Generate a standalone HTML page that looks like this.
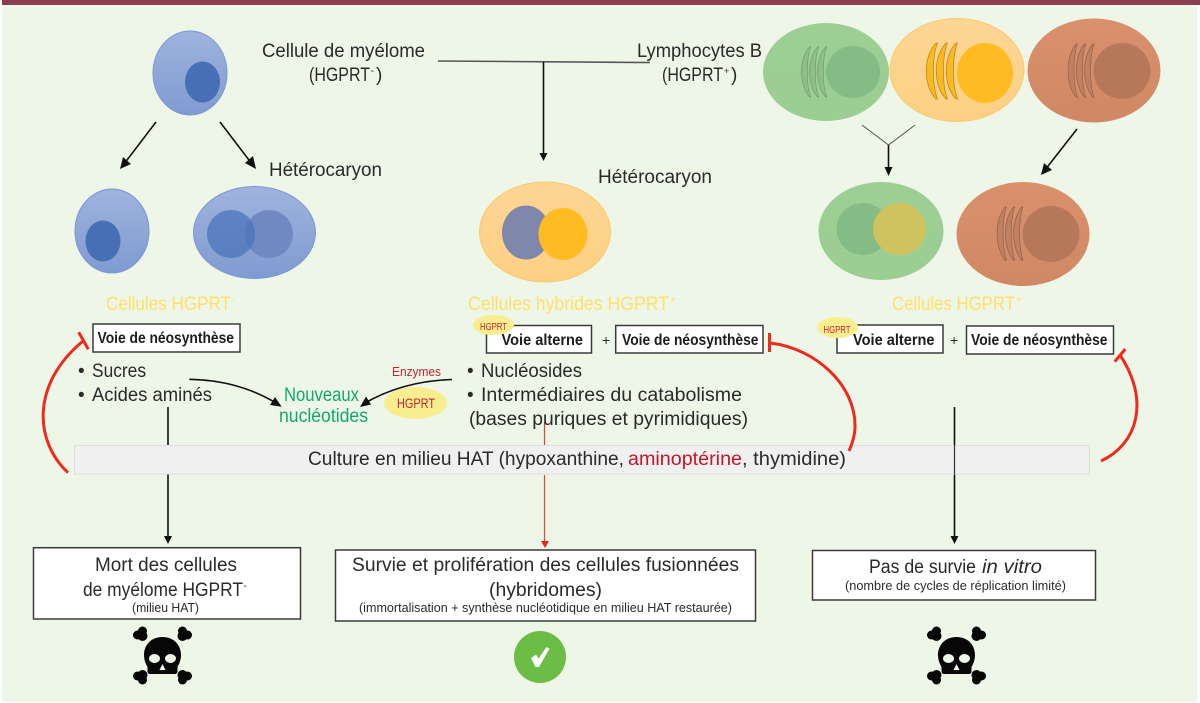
<!DOCTYPE html>
<html lang="fr"><head><meta charset="utf-8"><title>Hybridomes</title>
<style>
html,body{margin:0;padding:0;background:#fff}
svg{display:block}
text{font-family:"Liberation Sans",sans-serif;fill:#2a2a2a}
.m{font-size:19px}
.s{font-size:12.5px}
.b{font-size:15.5px;font-weight:700;fill:#1c1c1c}
.y{font-size:19px;fill:#ffe169}
.r{fill:#c9252f}
.g{fill:#12a76b}
.box{fill:#fff;stroke:#3a3a3a;stroke-width:1.5}
.a{stroke:#111;stroke-width:1.6;fill:none}
.red{stroke:#ee2a1c;stroke-width:3;fill:none}
</style></head><body>
<svg width="1200" height="703" viewBox="0 0 1200 703" xmlns="http://www.w3.org/2000/svg">
<defs>
<linearGradient id="bl" x1="0" y1="0" x2="0" y2="1"><stop offset="0" stop-color="#9fb3dd"/><stop offset="1" stop-color="#7f9bd1"/></linearGradient>
<linearGradient id="gr" x1="0" y1="0" x2="0" y2="1"><stop offset="0" stop-color="#9dcf95"/><stop offset="1" stop-color="#9bce92"/></linearGradient>
<linearGradient id="ye" x1="0" y1="0" x2="0" y2="1"><stop offset="0" stop-color="#fdd695"/><stop offset="1" stop-color="#fdd083"/></linearGradient>
<linearGradient id="br" x1="0" y1="0" x2="0" y2="1"><stop offset="0" stop-color="#db906c"/><stop offset="1" stop-color="#cf8865"/></linearGradient>
<g id="cr">
<path d="M8 0C-5 14 -5 42 8 56L9.500 56C4 42 4 14 9.500 0Z"/>
<path d="M18 0C5 14 5 42 18 56L19.500 56C14 42 14 14 19.500 0Z"/>
<path d="M28 0C15 14 15 42 28 56L29.500 56C24 42 24 14 29.500 0Z"/>
</g>
<g id="skull">
<path d="M0 -19C-13 -19 -19 -9 -18.500 0C-18 6 -16 9 -15 11L-15 15C-15 17 -14 18 -12 18L12 18C14 18 15 17 15 15L15 11C16 9 18 6 18.500 0C19 -9 13 -19 0 -19Z" fill="#070707"/>
<ellipse cx="-8" cy="2.500" rx="5.500" ry="4.500" fill="#eef6e8"/>
<ellipse cx="8" cy="2.500" rx="5.500" ry="4.500" fill="#eef6e8"/>
<path d="M0 8L3 14L-3 14Z" fill="#eef6e8"/>
<g fill="#070707">
<circle cx="-25" cy="-21" r="4.500"/><circle cx="-20" cy="-25" r="4.500"/><circle cx="-20" cy="-20" r="5"/>
<circle cx="25" cy="-21" r="4.500"/><circle cx="20" cy="-25" r="4.500"/><circle cx="20" cy="-20" r="5"/>
<circle cx="-25" cy="20" r="4.500"/><circle cx="-20" cy="24" r="4.500"/><circle cx="-20" cy="19" r="5"/>
<circle cx="25" cy="20" r="4.500"/><circle cx="20" cy="24" r="4.500"/><circle cx="20" cy="19" r="5"/>
</g>
</g>
</defs>

<rect x="2" y="5" width="1195" height="697" fill="#eef6e8"/>
<rect x="2" y="0" width="1198" height="5" fill="#8b3e50"/>

<!-- blue cells -->
<ellipse cx="190" cy="73" rx="37" ry="42" fill="url(#bl)" stroke="#7b98d2"/>
<ellipse cx="202.500" cy="82" rx="17.500" ry="20.500" fill="#466fb6"/>
<ellipse cx="112" cy="231" rx="37" ry="42" fill="url(#bl)" stroke="#7b98d2"/>
<ellipse cx="103" cy="241" rx="17.500" ry="20.500" fill="#466fb6"/>
<ellipse cx="254.500" cy="232.500" rx="61" ry="46" fill="url(#bl)" stroke="#7b98d2"/>
<circle cx="269" cy="234" r="24" fill="#7089c3"/>
<circle cx="231" cy="234" r="24" fill="#4a72ba" fill-opacity=".72"/>

<!-- hybrid -->
<ellipse cx="545" cy="232" rx="65.500" ry="50" fill="url(#ye)" stroke="#fdc868"/>
<ellipse cx="526" cy="232.500" rx="24" ry="27" fill="#8087ad"/>
<ellipse cx="563" cy="234" rx="24.500" ry="26" fill="#ffbc22"/>

<!-- top right cells -->
<ellipse cx="826" cy="72" rx="63" ry="49" fill="url(#gr)"/>
<ellipse cx="853" cy="72" rx="27" ry="26" fill="#85bb85"/>
<use href="#cr" transform="translate(803 47) scale(.8 .89)" fill="#8fbf88" stroke="#6f9a6e" stroke-width=".8"/>
<ellipse cx="957" cy="70" rx="67" ry="51.500" fill="url(#ye)" stroke="#fdc868"/>
<ellipse cx="985" cy="73" rx="28" ry="30" fill="#ffbc22"/>
<use href="#cr" transform="translate(928 43)" fill="#fbb81f" stroke="#b98c20" stroke-width=".8"/>
<ellipse cx="1094" cy="70.500" rx="66.500" ry="52" fill="url(#br)"/>
<ellipse cx="1122" cy="71" rx="28.500" ry="28" fill="#b7785a"/>
<use href="#cr" transform="translate(1069.500 44) scale(.83 .95)" fill="#c08061" stroke="#8f6048" stroke-width=".8"/>

<!-- bottom right cells -->
<ellipse cx="881" cy="231" rx="62.500" ry="49" fill="url(#gr)"/>
<ellipse cx="863" cy="229" rx="26.500" ry="26" fill="#85bb85"/>
<ellipse cx="899.500" cy="229" rx="26.500" ry="26" fill="#cfc35e"/>
<ellipse cx="1023" cy="234" rx="66.500" ry="52" fill="url(#br)"/>
<ellipse cx="1051" cy="234" rx="28.500" ry="28" fill="#b7785a"/>
<use href="#cr" transform="translate(998.500 207) scale(.83 .95)" fill="#c08061" stroke="#8f6048" stroke-width=".8"/>

<!-- black connectors -->
<g class="a">
<path d="M156 122L124 164"/><path d="M220 122L252 164"/>
<path d="M438 61L650 62.500" stroke="#555"/>
<path d="M543.500 62V155"/>
<path d="M862 125L888.500 145L915 125" stroke="#555" stroke-width="1"/>
<path d="M888.500 145V170"/>
<path d="M1077 129L1045 170"/>
<path d="M168 407V538"/>
<path d="M954.500 407V538"/>
<path d="M189.300 379.300Q238 380 277 403.500"/>
<path d="M452 379.500Q403 381 364 403.500"/>
</g>
<g fill="#111">
<path d="M120 169L123 157L131 164Z"/>
<path d="M256 169L245 163L253 156Z"/>
<path d="M543.500 161L539.500 153H547.500Z"/>
<path d="M888.500 176L884.500 167H892.500Z"/>
<path d="M1041 175L1044 163L1052 170Z"/>
<path d="M281.700 406.700L270 405L275 397Z"/>
<path d="M360 407L366 396.500L371 404.500Z"/>
<path d="M168 544L164 536H172Z"/>
<path d="M954.500 544L950.500 536H958.500Z"/>
</g>

<!-- bar -->
<rect x="74.500" y="445.500" width="1015" height="28.500" fill="#eff0ef" stroke="#dcdfdb"/>
<path d="M954.500 445V474" stroke="#333" stroke-width="1.200"/>

<!-- red vertical -->
<path d="M544.500 422V445M544.500 475V541" stroke="#e8433a" stroke-width="1.200" fill="none"/>
<path d="M545 548L541 541H549Z" fill="#e8231c"/>

<!-- red inhibitors -->
<path class="red" d="M68 472.700C35 442 30 385 83 341"/>
<path class="red" d="M78.700 332.300L88.300 349.300"/>
<path class="red" d="M770 343C815 348 856 385 855 427C855 436 852 444 849 451"/>
<path class="red" d="M769.500 333V352"/>
<path class="red" d="M1101 461C1138 444 1150 400 1120 355"/>
<path class="red" d="M1114.700 361.700L1125.300 349"/>

<!-- boxes -->
<rect class="box" x="93" y="324" width="147" height="28"/>
<rect class="box" x="486.500" y="325.500" width="105" height="27.500"/>
<rect class="box" x="615.700" y="325.500" width="147.300" height="27.500"/>
<rect class="box" x="837" y="325" width="106" height="28"/>
<rect class="box" x="966.500" y="326" width="147" height="28"/>
<rect class="box" x="33.500" y="547.700" width="267" height="71.300"/>
<rect class="box" x="335.500" y="550" width="420" height="71"/>
<rect class="box" x="812.500" y="550.500" width="283" height="49.500"/>

<!-- yellow ellipses -->
<ellipse cx="493.500" cy="325" rx="20.500" ry="10" fill="#f8ee90"/>
<ellipse cx="837.700" cy="327.500" rx="20.500" ry="10.500" fill="#f8ee90"/>
<ellipse cx="415.500" cy="403" rx="31.500" ry="16" fill="#f8ee90"/>

<!-- top labels -->
<text class="m" x="262" y="57" textLength="163" lengthAdjust="spacingAndGlyphs">Cellule de myélome</text>
<text class="m" x="309" y="81" textLength="61" lengthAdjust="spacingAndGlyphs">(HGPRT</text>
<text x="370.500" y="74" style="font-size:10px">-</text>
<text class="m" x="376" y="81">)</text>
<text class="m" x="637" y="57" textLength="125" lengthAdjust="spacingAndGlyphs">Lymphocytes B</text>
<text class="m" x="662" y="81" textLength="61" lengthAdjust="spacingAndGlyphs">(HGPRT</text>
<text x="724" y="74" style="font-size:9px">+</text>
<text class="m" x="731" y="81">)</text>
<text class="m" x="269" y="176" textLength="113" lengthAdjust="spacingAndGlyphs">Hétérocaryon</text>
<text class="m" x="598" y="183" textLength="114" lengthAdjust="spacingAndGlyphs">Hétérocaryon</text>

<text class="y" x="106" y="310" textLength="125" lengthAdjust="spacingAndGlyphs">Cellules HGPRT</text>
<text class="y" x="231" y="303" style="font-size:10px">-</text>
<text class="y" x="468" y="310" textLength="201" lengthAdjust="spacingAndGlyphs">Cellules hybrides HGPRT</text>
<text class="y" x="670" y="303" style="font-size:10px">+</text>
<text class="y" x="892" y="310" textLength="123" lengthAdjust="spacingAndGlyphs">Cellules HGPRT</text>
<text class="y" x="1016" y="303" style="font-size:10px">+</text>

<!-- box labels -->
<text class="b" x="97.500" y="343" textLength="136.500" lengthAdjust="spacingAndGlyphs">Voie de néosynthèse</text>
<text class="b" x="501.500" y="345" textLength="81.500" lengthAdjust="spacingAndGlyphs">Voie alterne</text>
<text class="b" x="622" y="345" textLength="136.500" lengthAdjust="spacingAndGlyphs">Voie de néosynthèse</text>
<text class="b" x="853" y="345" textLength="81.500" lengthAdjust="spacingAndGlyphs">Voie alterne</text>
<text class="b" x="971" y="345" textLength="136.500" lengthAdjust="spacingAndGlyphs">Voie de néosynthèse</text>
<text x="602" y="345" style="font-size:14px">+</text>
<text x="950" y="345" style="font-size:14px">+</text>
<text class="r" x="480" y="330" textLength="27" lengthAdjust="spacingAndGlyphs" style="font-size:10px">HGPRT</text>
<text class="r" x="823.500" y="333" textLength="27" lengthAdjust="spacingAndGlyphs" style="font-size:10px">HGPRT</text>

<!-- lists -->
<text class="m" x="78" y="377">•</text>
<text class="m" x="92" y="377" textLength="54" lengthAdjust="spacingAndGlyphs">Sucres</text>
<text class="m" x="78" y="401">•</text>
<text class="m" x="92" y="401" textLength="120" lengthAdjust="spacingAndGlyphs">Acides aminés</text>
<text class="m g" x="284" y="401" textLength="75" lengthAdjust="spacingAndGlyphs">Nouveaux</text>
<text class="m g" x="279" y="422" textLength="89" lengthAdjust="spacingAndGlyphs">nucléotides</text>
<text class="r" x="392" y="376" textLength="49" lengthAdjust="spacingAndGlyphs" style="font-size:13px">Enzymes</text>
<text class="r" x="397" y="408" textLength="38" lengthAdjust="spacingAndGlyphs" style="font-size:14px">HGPRT</text>
<text class="m" x="467" y="377">•</text>
<text class="m" x="481" y="377" textLength="101" lengthAdjust="spacingAndGlyphs">Nucléosides</text>
<text class="m" x="467" y="401">•</text>
<text class="m" x="481" y="401" textLength="261" lengthAdjust="spacingAndGlyphs">Intermédiaires du catabolisme</text>
<text class="m" x="469" y="425" textLength="279" lengthAdjust="spacingAndGlyphs">(bases puriques et pyrimidiques)</text>

<!-- bar text -->
<text class="m" x="308" y="465" textLength="316" lengthAdjust="spacingAndGlyphs">Culture en milieu HAT (hypoxanthine,</text>
<text class="m" x="628" y="465" textLength="114" lengthAdjust="spacingAndGlyphs" style="fill:#c4162a">aminoptérine</text>
<text class="m" x="742" y="465" textLength="104" lengthAdjust="spacingAndGlyphs">, thymidine)</text>

<!-- bottom boxes -->
<text class="m" x="95" y="571" textLength="142" lengthAdjust="spacingAndGlyphs">Mort des cellules</text>
<text class="m" x="83" y="596" textLength="160" lengthAdjust="spacingAndGlyphs">de myélome HGPRT</text>
<text x="243.500" y="589" style="font-size:10px">-</text>
<text class="s" x="132" y="612" textLength="67" lengthAdjust="spacingAndGlyphs">(milieu HAT)</text>

<text class="m" x="352" y="571" textLength="387" lengthAdjust="spacingAndGlyphs">Survie et prolifération des cellules fusionnées</text>
<text class="m" x="489" y="596" textLength="113" lengthAdjust="spacingAndGlyphs">(hybridomes)</text>
<text class="s" x="359" y="612" textLength="373" lengthAdjust="spacingAndGlyphs">(immortalisation + synthèse nucléotidique en milieu HAT restaurée)</text>

<text class="m" x="869" y="573" textLength="107" lengthAdjust="spacingAndGlyphs">Pas de survie</text>
<text class="m" x="982" y="573" textLength="60" lengthAdjust="spacingAndGlyphs" font-style="italic">in vitro</text>
<text class="s" x="845" y="590" textLength="221" lengthAdjust="spacingAndGlyphs">(nombre de cycles de réplication limité)</text>

<!-- icons -->
<use href="#skull" transform="translate(162.500 656)"/>
<use href="#skull" transform="translate(956.500 656)"/>
<circle cx="540" cy="657" r="26" fill="#6cbd45"/>
<path d="M531 658L536 654.500L538.500 658.500L546.500 647L549.500 648.500L539 667L535.500 667Z" fill="#fff"/>
</svg>
</body></html>
